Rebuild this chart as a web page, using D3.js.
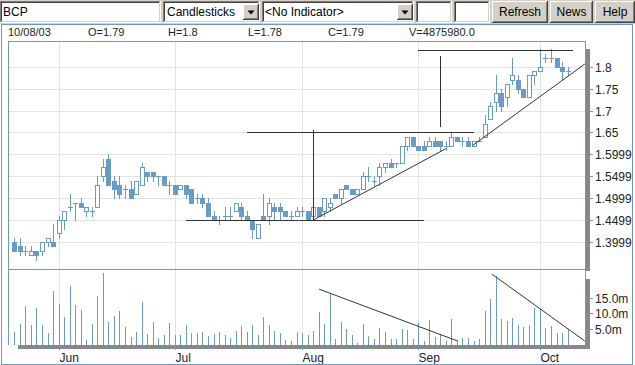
<!DOCTYPE html>
<html><head><meta charset="utf-8">
<script src="https://cdn.jsdelivr.net/npm/d3@7"></script>
<style>
body{margin:0;background:#fff;overflow:hidden;}
svg{display:block;font-family:"Liberation Sans",Arial,sans-serif;}
</style></head><body>
<svg id="c" width="635" height="365"></svg>
<script>
// ---------- data ----------
const symbol = "BCP";
const dates = ["05/21","05/22","05/23","05/26","05/27","05/28","05/29","05/30",
"06/02","06/03","06/04","06/05","06/06","06/09","06/10","06/11","06/12","06/13","06/16","06/17","06/18","06/19","06/20","06/23","06/24","06/25","06/26","06/27","06/30",
"07/01","07/02","07/03","07/04","07/07","07/08","07/09","07/10","07/11","07/14","07/15","07/16","07/17","07/18","07/21","07/22","07/23","07/24","07/25","07/28","07/29","07/30","07/31",
"08/01","08/04","08/05","08/06","08/07","08/08","08/11","08/12","08/13","08/14","08/15","08/18","08/19","08/20","08/21","08/22","08/25","08/26","08/27","08/28","08/29",
"09/01","09/02","09/03","09/04","09/05","09/08","09/09","09/10","09/11","09/12","09/15","09/16","09/17","09/18","09/19","09/22","09/23","09/24","09/25","09/26","09/29","09/30",
"10/01","10/02","10/03","10/06","10/07","10/08"];
const year = "03";
const open  = [1.40,1.39,1.38,1.37,1.38,1.38,1.40,1.40,1.42,1.45,1.48,1.49,1.49,1.47,1.47,1.48,1.55,1.59,1.54,1.53,1.52,1.52,1.51,1.53,1.56,1.56,1.55,1.55,1.53,1.53,1.52,1.53,1.52,1.50,1.50,1.49,1.46,1.45,1.46,1.46,1.47,1.48,1.46,1.45,1.41,1.46,1.46,1.48,1.48,1.47,1.46,1.46,1.47,1.47,1.46,1.48,1.47,1.48,1.51,1.50,1.53,1.52,1.51,1.52,1.55,1.54,1.55,1.57,1.58,1.58,1.58,1.62,1.64,1.62,1.62,1.62,1.63,1.63,1.62,1.62,1.64,1.63,1.63,1.62,1.63,1.64,1.68,1.72,1.74,1.73,1.77,1.77,1.75,1.73,1.78,1.79,1.82,1.82,1.82,1.80,1.79];
const high  = [1.41,1.41,1.39,1.39,1.38,1.40,1.41,1.44,1.46,1.47,1.51,1.49,1.50,1.48,1.48,1.55,1.59,1.60,1.55,1.55,1.53,1.54,1.54,1.58,1.56,1.56,1.55,1.55,1.54,1.53,1.53,1.53,1.52,1.51,1.51,1.50,1.47,1.46,1.48,1.48,1.49,1.49,1.47,1.45,1.44,1.51,1.50,1.49,1.49,1.47,1.47,1.48,1.48,1.47,1.49,1.48,1.50,1.50,1.51,1.52,1.53,1.52,1.52,1.56,1.57,1.55,1.58,1.58,1.59,1.58,1.62,1.64,1.64,1.62,1.63,1.64,1.64,1.63,1.63,1.65,1.64,1.64,1.64,1.63,1.64,1.69,1.72,1.78,1.75,1.76,1.82,1.78,1.75,1.78,1.79,1.84,1.83,1.84,1.82,1.81,1.80];
const low   = [1.38,1.37,1.37,1.37,1.36,1.37,1.39,1.39,1.41,1.43,1.47,1.45,1.48,1.46,1.46,1.48,1.54,1.53,1.50,1.50,1.50,1.50,1.51,1.53,1.54,1.54,1.53,1.53,1.51,1.51,1.52,1.50,1.49,1.49,1.48,1.46,1.45,1.44,1.45,1.45,1.47,1.45,1.45,1.41,1.41,1.45,1.44,1.45,1.45,1.46,1.45,1.46,1.46,1.45,1.45,1.46,1.46,1.47,1.50,1.49,1.52,1.51,1.51,1.52,1.54,1.53,1.53,1.56,1.57,1.57,1.58,1.61,1.62,1.61,1.61,1.62,1.62,1.61,1.61,1.62,1.63,1.62,1.62,1.62,1.63,1.64,1.68,1.70,1.70,1.71,1.76,1.74,1.73,1.73,1.76,1.79,1.81,1.81,1.80,1.77,1.78];
const close = [1.38,1.38,1.38,1.38,1.37,1.40,1.41,1.39,1.45,1.47,1.48,1.49,1.48,1.48,1.47,1.53,1.57,1.53,1.52,1.51,1.52,1.50,1.54,1.57,1.55,1.55,1.55,1.53,1.53,1.51,1.53,1.51,1.49,1.50,1.49,1.46,1.45,1.45,1.46,1.46,1.49,1.46,1.45,1.43,1.44,1.45,1.49,1.47,1.47,1.46,1.46,1.47,1.47,1.45,1.48,1.46,1.50,1.49,1.50,1.52,1.52,1.51,1.52,1.55,1.55,1.54,1.57,1.58,1.57,1.58,1.62,1.64,1.62,1.61,1.61,1.63,1.62,1.62,1.62,1.64,1.63,1.63,1.62,1.63,1.63,1.67,1.71,1.74,1.71,1.76,1.78,1.75,1.73,1.78,1.79,1.80,1.82,1.82,1.80,1.79,1.79];
// volume in millions of shares
const volume = [4.1,6.7,12.4,6.3,11.7,6.3,3.8,17.1,13.0,8.9,18.7,12.7,11.1,1.6,6.7,15.5,22.8,7.3,9.2,10.8,5.7,2.5,4.1,13.6,3.5,7.3,2.2,3.2,7.0,3.2,3.2,6.3,3.8,3.8,4.1,2.9,3.5,4.1,3.2,2.2,4.4,6.0,4.1,6.3,3.2,8.9,6.3,4.4,3.8,1.6,1.3,4.1,3.8,3.2,4.4,10.5,6.7,16.4,1.9,7.3,5.1,3.2,0.6,6.7,2.9,1.9,5.4,4.1,1.9,1.9,5.1,4.8,1.9,7.0,1.3,7.9,2.5,3.5,1.3,8.2,1.6,2.2,2.2,1.3,1.9,10.8,14.6,21.9,8.2,7.6,8.6,6.3,5.7,6.3,11.7,11.4,5.4,6.0,3.8,3.8,4.87598];
const priceTicks = [1.8,1.75,1.7,1.65,1.59999,1.54999,1.49999,1.44999,1.39999];
const volumeTicks = [15,10,5];
const volumeTickLabels = ["15.0m","10.0m","5.0m"];
const monthNames = {"06":"Jun","07":"Jul","08":"Aug","09":"Sep","10":"Oct"};
// annotation lines drawn by the user (index, price)
const priceLines = [
  [31,1.45,74,1.45],[54,1.45,54,1.655],[42,1.65,83,1.65],
  [77,1.662,77,1.824],[73,1.838,101,1.838],
  [54,1.45,78,1.613],[82.8,1.62,103.1,1.806]
];
const volumeLines = [[55.1,17.7,80.1,1.27],[86.3,22.5,103.1,1.27]];

// ---------- layout ----------
const svg = d3.select("#c");
const P = {l:8, r:585, t:41, m:269, b:345};
const blue = "#6a9bc6", border = "#6a9bc6", grid = "#e3e3e3", txt = "#222";
const x = d3.scaleLinear().domain([-1.14,103.14]).range([P.l,P.r]);
const y = d3.scaleLinear().domain([1.3384,1.8586]).range([P.m,P.t]);
const yv = d3.scaleLinear().domain([0,15]).range([P.b,297.7]);
const px = v => Math.round(v)+0.5;

// toolbar
svg.append("rect").attr("x",0).attr("y",0).attr("width",635).attr("height",24).attr("fill","#d4d0c8");
function sunken(x0,y0,w,h){
  const g=svg.append("g").attr("shape-rendering","crispEdges");
  g.append("rect").attr("x",x0).attr("y",y0).attr("width",w).attr("height",h).attr("fill","#fff");
  g.append("path").attr("d",`M${x0+.5},${y0+h}V${y0+.5}H${x0+w}`).attr("stroke","#808080").attr("fill","none");
  g.append("path").attr("d",`M${x0+1.5},${y0+h-1}V${y0+1.5}H${x0+w-1}`).attr("stroke","#404040").attr("fill","none");
  g.append("path").attr("d",`M${x0},${y0+h-.5}H${x0+w-.5}V${y0}`).attr("stroke","#fff").attr("fill","none");
  g.append("path").attr("d",`M${x0+1},${y0+h-1.5}H${x0+w-1.5}V${y0+1}`).attr("stroke","#d4d0c8").attr("fill","none");
}
function raised(x0,y0,w,h){
  const g=svg.append("g").attr("shape-rendering","crispEdges");
  g.append("rect").attr("x",x0).attr("y",y0).attr("width",w).attr("height",h).attr("fill","#d4d0c8");
  g.append("path").attr("d",`M${x0+.5},${y0+h}V${y0+.5}H${x0+w}`).attr("stroke","#fff").attr("fill","none");
  g.append("path").attr("d",`M${x0},${y0+h-.5}H${x0+w-.5}V${y0}`).attr("stroke","#404040").attr("fill","none");
  g.append("path").attr("d",`M${x0+1},${y0+h-1.5}H${x0+w-1.5}V${y0+1}`).attr("stroke","#808080").attr("fill","none");
}
function label(t,xx,yy,anchor){
  svg.append("text").attr("x",xx).attr("y",yy).attr("font-size",12).attr("fill","#000").attr("text-anchor",anchor||"start").text(t);
}
sunken(0,1,161,22); label(symbol,3,16);
sunken(163,1,97,22); label("Candlesticks",167,16);
sunken(262,1,152,22); label("<No Indicator>",265,16);
[[243,4],[397,4]].forEach(([ax,ay])=>{
  raised(ax,ay,16,16);
  svg.append("path").attr("d",`M${ax+4.5},${ay+6.5}h7l-3.5,4z`).attr("fill","#000");
});
sunken(416,1,36,22); sunken(454,1,36,22);
[["Refresh",492,56],["News",550,43],["Help",595,40]].forEach(([t,bx,bw])=>{
  raised(bx,1,bw,22); label(t,bx+bw/2,16,"middle");
});

// container border
svg.append("rect").attr("x",1.5).attr("y",24.5).attr("width",631).attr("height",339.5)
  .attr("fill","#fff").attr("stroke",border).attr("shape-rendering","crispEdges");

// header
const last = dates.length-1;
const hdr = [
  [dates[last]+"/"+year, 8],["O="+open[last],88],["H="+high[last],168],
  ["L="+low[last],248],["C="+close[last],328],["V="+(volume[last]*1e6).toFixed(1),409]
];
hdr.forEach(([t,hx])=>svg.append("text").attr("x",hx).attr("y",36).attr("font-size",11).attr("fill",txt).text(t));

// shadows
const sh = svg.append("g").attr("fill","#888").attr("shape-rendering","crispEdges");
sh.append("rect").attr("x",P.r+1).attr("y",P.t+8).attr("width",3.5).attr("height",P.m-P.t-6);
sh.append("rect").attr("x",P.r+1).attr("y",P.m+10).attr("width",3.5).attr("height",P.b-P.m-6);
sh.append("rect").attr("x",P.l+10).attr("y",P.b).attr("width",P.r-P.l-5.5).attr("height",4);

// month ticks
const monthIdx = [];
dates.forEach((d,i)=>{ if(i>0 && d.slice(0,2)!==dates[i-1].slice(0,2)) monthIdx.push(i); });

// grid
const gg = svg.append("g").attr("stroke",grid).attr("shape-rendering","crispEdges");
priceTicks.forEach(t=>gg.append("line").attr("x1",P.l).attr("x2",P.r).attr("y1",px(y(t))).attr("y2",px(y(t))));
monthIdx.forEach(i=>gg.append("line").attr("x1",px(x(i))).attr("x2",px(x(i))).attr("y1",P.t).attr("y2",P.b));

// candles
svg.append("clipPath").attr("id","cp").append("rect").attr("x",P.l).attr("y",P.t).attr("width",P.r-P.l).attr("height",P.m-P.t);
const cg = svg.append("g").attr("clip-path","url(#cp)").attr("shape-rendering","crispEdges");
dates.forEach((d,i)=>{
  const cx = Math.round(x(i));
  const yo = Math.round(y(open[i])), yc = Math.round(y(close[i]));
  cg.append("line").attr("x1",cx+.5).attr("x2",cx+.5).attr("y1",Math.round(y(high[i]))).attr("y2",Math.round(y(low[i]))+1).attr("stroke",blue);
  if (yo===yc){
    cg.append("line").attr("x1",cx-2).attr("x2",cx+3).attr("y1",yo+.5).attr("y2",yo+.5).attr("stroke",blue);
  } else if (close[i]>open[i]){
    cg.append("rect").attr("x",cx-1.5).attr("y",yc+.5).attr("width",4).attr("height",yo-yc).attr("fill","#fff").attr("stroke",blue);
  } else {
    cg.append("rect").attr("x",cx-2).attr("y",yo).attr("width",5).attr("height",yc-yo+1).attr("fill",blue);
  }
});
// price annotations
priceLines.forEach(([a,p1,b,p2])=>cg.append("line").attr("x1",x(a)).attr("y1",y(p1)).attr("x2",x(b)).attr("y2",y(p2))
  .attr("stroke","#333").attr("stroke-width",1).attr("shape-rendering", (p1===p2||a===b)?"crispEdges":"auto"));

// volume
svg.append("clipPath").attr("id","cv").append("rect").attr("x",P.l).attr("y",P.m).attr("width",P.r-P.l).attr("height",P.b-P.m);
const vg = svg.append("g").attr("clip-path","url(#cv)");
volume.forEach((v,i)=>vg.append("line").attr("x1",px(x(i))).attr("x2",px(x(i))).attr("y1",P.b).attr("y2",Math.round(yv(v)))
  .attr("stroke",blue).attr("shape-rendering","crispEdges"));
volumeLines.forEach(([a,v1,b,v2])=>vg.append("line").attr("x1",x(a)).attr("y1",yv(v1)).attr("x2",x(b)).attr("y2",yv(v2)).attr("stroke","#333"));

// panel borders
const bg = svg.append("g").attr("stroke",border).attr("fill","none").attr("shape-rendering","crispEdges");
bg.append("path").attr("d",`M${P.l+.5},${P.b}V${P.t+.5}H${P.r+.5}V${P.b}`);
bg.append("line").attr("x1",P.l).attr("x2",P.r+1).attr("y1",P.m+.5).attr("y2",P.m+.5);

// axes (right)
svg.append("clipPath").attr("id","cc").append("rect").attr("x",0).attr("y",0).attr("width",632).attr("height",364);
const ag = svg.append("g").attr("clip-path","url(#cc)");
priceTicks.forEach(t=>{
  const yy = px(y(t));
  ag.append("line").attr("x1",P.r+3).attr("x2",P.r+8).attr("y1",yy).attr("y2",yy).attr("stroke",border).attr("shape-rendering","crispEdges");
  ag.append("text").attr("x",P.r+10).attr("y",yy+4.5).attr("font-size",12).attr("fill",txt).text(String(t));
});
volumeTicks.forEach((t,k)=>{
  const yy = px(yv(t));
  ag.append("line").attr("x1",P.r+3).attr("x2",P.r+8).attr("y1",yy).attr("y2",yy).attr("stroke",border).attr("shape-rendering","crispEdges");
  ag.append("text").attr("x",P.r+10).attr("y",yy+4.5).attr("font-size",12).attr("fill",txt).text(volumeTickLabels[k]);
});
monthIdx.forEach(i=>{
  const xx = px(x(i));
  ag.append("line").attr("x1",xx).attr("x2",xx).attr("y1",P.b).attr("y2",P.b+5).attr("stroke",border).attr("shape-rendering","crispEdges");
  ag.append("text").attr("x",xx).attr("y",362).attr("font-size",12).attr("fill",txt).text(monthNames[dates[i].slice(0,2)]);
});
</script></body></html>
